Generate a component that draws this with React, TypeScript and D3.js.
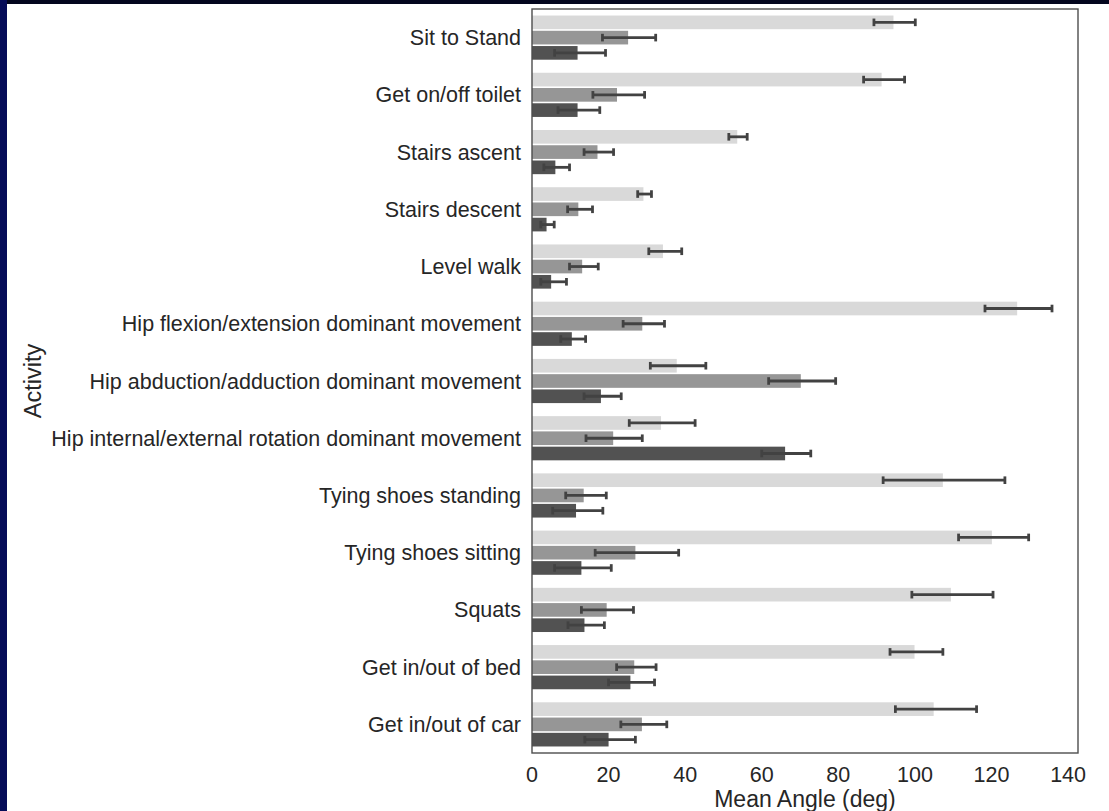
import React, { useEffect, useRef } from 'react';
import * as d3 from 'd3';

const activities = [
  'Sit to Stand',
  'Get on/off toilet',
  'Stairs ascent',
  'Stairs descent',
  'Level walk',
  'Hip flexion/extension dominant movement',
  'Hip abduction/adduction dominant movement',
  'Hip internal/external rotation dominant movement',
  'Tying shoes standing',
  'Tying shoes sitting',
  'Squats',
  'Get in/out of bed',
  'Get in/out of car',
];

const seriesNames = ['Flexion/extension', 'Abduction/adduction', 'Internal/external rotation'];
const seriesColors = ['#d9d9d9', '#969696', '#525252'];

// mean values per series
const flexMean = [94.4, 91.3, 53.6, 29.1, 34.2, 126.7, 37.8, 33.7, 107.3, 120.1, 109.4, 99.9, 104.9];
const abdMean = [25.1, 22.2, 17.1, 12.1, 13.1, 28.8, 70.2, 21.2, 13.5, 27.0, 19.5, 26.7, 28.7];
const rotMean = [11.9, 11.9, 6.1, 3.8, 5.0, 10.4, 18.0, 66.1, 11.5, 12.9, 13.7, 25.7, 20.0];

// error bar ends
const flexLo = [89.3, 86.6, 51.4, 27.6, 30.5, 118.3, 30.9, 25.4, 91.7, 111.4, 99.2, 93.5, 94.9];
const flexHi = [100.1, 97.3, 56.2, 31.2, 39.1, 135.8, 45.4, 42.6, 123.5, 129.7, 120.4, 107.3, 116.1];
const abdLo = [18.4, 15.9, 13.6, 9.3, 9.8, 23.8, 61.8, 14.1, 8.8, 16.5, 12.9, 22.1, 23.2];
const abdHi = [32.3, 29.4, 21.3, 15.8, 17.3, 34.6, 79.3, 28.8, 19.4, 38.3, 26.5, 32.4, 35.2];
const rotLo = [5.9, 6.8, 3.1, 2.3, 2.3, 7.5, 13.6, 60.0, 5.4, 5.9, 9.4, 20.0, 13.8];
const rotHi = [19.2, 17.7, 9.8, 5.8, 9.0, 14.0, 23.3, 72.8, 18.5, 20.7, 18.9, 32.0, 27.0];

const xTicks = [0, 20, 40, 60, 80, 100, 120, 140];

const means = [flexMean, abdMean, rotMean];
const los = [flexLo, abdLo, rotLo];
const his = [flexHi, abdHi, rotHi];

export default function App() {
  const svgRef = useRef<SVGSVGElement>(null);
  const width = 1109;
  const height = 811;

  useEffect(() => {
    if (!svgRef.current) return;
    const svg = d3.select(svgRef.current);
    svg.selectAll('*').remove();

    const font = '"Liberation Sans", Arial, sans-serif';
    const textColor = '#262626';
    const margin = { left: 532, right: 31, top: 9, bottom: 58 };
    const innerW = width - margin.left - margin.right;
    const innerH = height - margin.top - margin.bottom;

    svg.append('rect').attr('width', width).attr('height', height).attr('fill', '#fff');
    // dark frame strips at the top and left edge
    svg.append('rect').attr('x', 0).attr('y', 0).attr('width', width).attr('height', 4).attr('fill', '#03061e');
    svg.append('rect').attr('x', 0).attr('y', 0).attr('width', 7).attr('height', height).attr('fill', '#060c58');

    const maxX = d3.max(his.flat()) as number;
    const x = d3.scaleLinear().domain([0, maxX * 1.05]).range([0, innerW]);
    const y = d3.scaleBand<string>().domain(activities).range([0, innerH]).paddingInner(0).paddingOuter(0);
    const inner = d3.scaleBand<number>().domain([0, 1, 2]).range([0, y.bandwidth() * 0.8]);
    const off = y.bandwidth() * 0.1;

    const g = svg.append('g').attr('transform', `translate(${margin.left},${margin.top})`);

    seriesNames.forEach((name, si) => {
      const grp = g.append('g').attr('class', `series-${si}`);
      grp.selectAll('rect')
        .data(activities)
        .enter()
        .append('rect')
        .attr('x', 0)
        .attr('y', d => (y(d) as number) + off + (inner(si) as number) + 0.8)
        .attr('width', (d, i) => x(means[si][i]))
        .attr('height', inner.bandwidth() - 1.6)
        .attr('fill', seriesColors[si]);
    });

    const cap = 3.8;
    seriesNames.forEach((name, si) => {
      activities.forEach((a, i) => {
        const cy = (y(a) as number) + off + (inner(si) as number) + inner.bandwidth() / 2;
        const x0 = x(los[si][i]);
        const x1 = x(his[si][i]);
        const eg = g.append('g').attr('stroke', '#424242').attr('stroke-width', 2.8);
        eg.append('line').attr('x1', x0).attr('x2', x1).attr('y1', cy).attr('y2', cy);
        eg.append('line').attr('x1', x0).attr('x2', x0).attr('y1', cy - cap).attr('y2', cy + cap);
        eg.append('line').attr('x1', x1).attr('x2', x1).attr('y1', cy - cap).attr('y2', cy + cap);
      });
    });

    // frame
    g.append('rect')
      .attr('width', innerW)
      .attr('height', innerH)
      .attr('fill', 'none')
      .attr('stroke', '#4d4d4d')
      .attr('stroke-width', 1.4);

    // y tick labels
    g.selectAll('.ylab')
      .data(activities)
      .enter()
      .append('text')
      .attr('x', -11)
      .attr('y', d => (y(d) as number) + y.bandwidth() / 2)
      .attr('dy', '0.35em')
      .attr('text-anchor', 'end')
      .style('font-family', font)
      .style('font-size', '21.5px')
      .attr('fill', textColor)
      .text(d => d);

    // x tick labels
    g.selectAll('.xlab')
      .data(xTicks)
      .enter()
      .append('text')
      .attr('x', d => x(d))
      .attr('y', innerH + 21)
      .attr('dy', '0.35em')
      .attr('text-anchor', 'middle')
      .style('font-family', font)
      .style('font-size', '21.5px')
      .attr('fill', textColor)
      .text(d => d);

    g.append('text')
      .attr('x', innerW / 2)
      .attr('y', innerH + 45.5)
      .attr('dy', '0.35em')
      .attr('text-anchor', 'middle')
      .style('font-family', font)
      .style('font-size', '23px')
      .attr('fill', textColor)
      .text('Mean Angle (deg)');

    svg.append('text')
      .attr('transform', `translate(33,${margin.top + innerH / 2}) rotate(-90)`)
      .attr('dy', '0.35em')
      .attr('text-anchor', 'middle')
      .style('font-family', font)
      .style('font-size', '23.5px')
      .attr('fill', textColor)
      .text('Activity');
  }, []);

  return (
    <div style={{ position: 'absolute', left: 0, top: 0 }}>
      <svg ref={svgRef} width={width} height={height} style={{ display: 'block' }} />
    </div>
  );
}
